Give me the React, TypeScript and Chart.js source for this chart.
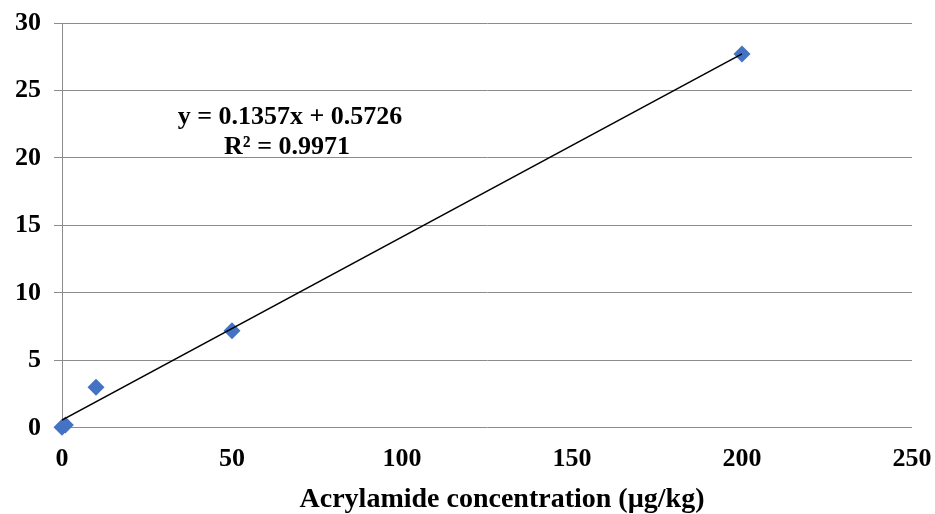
import React, { useEffect, useRef } from "react";
import { Chart, registerables } from "chart.js";

Chart.register(...registerables);

const concentrations = [0, 1, 10, 50, 200];
const responses = [0.05, 0.2, 3.0, 7.2, 27.7];
const slope = 0.1357;
const intercept = 0.5726;
const trendX = [0, 200];
const equationLines = ["y = 0.1357x + 0.5726", "R\u00b2 = 0.9971"];
const xTitle = "Acrylamide concentration (\u00b5g/kg)";

const FONT = "'Liberation Serif', 'Times New Roman', serif";

const textPlugin = {
  id: "eqText",
  afterDatasetsDraw(chart: any) {
    const ctx = chart.ctx;
    ctx.save();
    ctx.fillStyle = "#000";
    ctx.textAlign = "center";
    ctx.textBaseline = "middle";
    ctx.font = `bold 26px ${FONT}`;
    ctx.fillText(equationLines[0], 290, 117);
    ctx.fillText(equationLines[1], 287, 147);
    ctx.font = `bold 28px ${FONT}`;
    ctx.textBaseline = "alphabetic";
    ctx.fillText(xTitle, 502, 507);
    ctx.restore();
  },
};

export default function App() {
  const ref = useRef<HTMLCanvasElement>(null);
  useEffect(() => {
    document.body.style.margin = "0";
    const chart = new Chart(ref.current!, {
      type: "scatter",
      data: {
        datasets: [
          {
            type: "line",
            data: trendX.map((x) => ({ x, y: slope * x + intercept })),
            borderColor: "#000",
            borderWidth: 1.5,
            pointRadius: 0,
            fill: false,
          } as any,
          {
            data: concentrations.map((x, i) => ({ x, y: responses[i] })),
            pointStyle: "rectRot",
            pointRadius: 8.5,
            backgroundColor: "#4472C4",
            borderColor: "#4472C4",
            borderWidth: 0,
            clip: false,
          } as any,
        ],
      },
      options: {
        responsive: false,
        animation: false,
        layout: { padding: { top: 0, right: 0, left: 2, bottom: 31 } },
        plugins: { legend: { display: false }, tooltip: { enabled: false } },
        scales: {
          x: {
            type: "linear",
            min: 0,
            max: 250,
            afterFit(scale: any) {
              scale.paddingRight = 23;
            },
            ticks: {
              stepSize: 50,
              color: "#000",
              font: { family: FONT, size: 26, weight: "bold" },
              padding: 8,
            },
            grid: { display: false },
            border: { display: false },
          },
          y: {
            min: 0,
            max: 30,
            afterFit(scale: any) {
              scale.paddingTop = 23;
            },
            ticks: {
              stepSize: 5,
              color: "#000",
              font: { family: FONT, size: 26, weight: "bold" },
              padding: 13,
            },
            grid: { color: "#8c8c8c", lineWidth: 1, tickLength: 8 },
            border: { display: true, color: "#8c8c8c" },
          },
        },
      },
      plugins: [textPlugin],
    });
    return () => chart.destroy();
  }, []);
  return <canvas ref={ref} width={935} height={514} />;
}
